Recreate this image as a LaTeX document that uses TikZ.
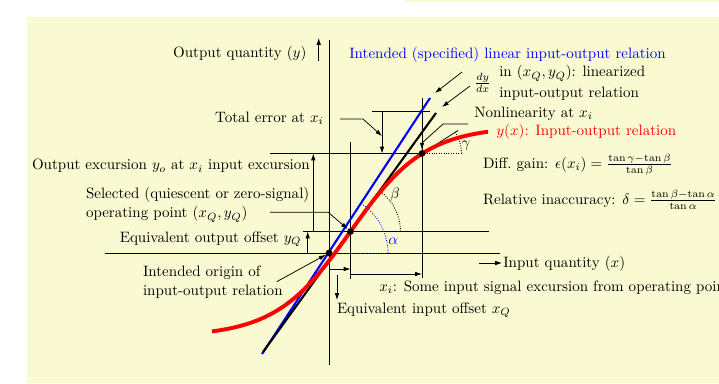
\documentclass[tikz,border=0pt]{standalone}
\usetikzlibrary{arrows.meta}
\definecolor{bgyellow}{RGB}{250,250,210}
\begin{document}
\begin{tikzpicture}[x=0.665pt,y=-0.665pt,
  >={Latex[length=4.5pt,width=3pt]},
  lbl/.style={inner sep=0pt},
  guide/.style={line width=0.5pt},
  refline/.style={line width=1.4pt},
  ioline/.style={red,line width=2.6pt},
  angarc/.style={densely dotted,line width=0.6pt},
  dotpt/.style={fill=black}]
\useasboundingbox (0,0) rectangle (719,383);
\fill[white] (0,0) rectangle (719,383);
\fill[bgyellow] (405,0) rectangle (719,2.5);
\fill[bgyellow] (27,17) rectangle (719,383);

% key points
\coordinate (O) at (329,253);
\coordinate (Q) at (350.5,231.5);
\coordinate (P) at (422,153.5);

% axes and guide lines
\coordinate (yaxT) at (329,40);   \coordinate (yaxB) at (329,365);
\coordinate (xaxL) at (105,253);  \coordinate (xaxR) at (500,253);
\coordinate (hqL) at (303,231.5); \coordinate (hqR) at (489,231.5);
\coordinate (hpL) at (270,153.5); \coordinate (hpR) at (461.5,153.5);
\coordinate (vqT) at (350.5,142); \coordinate (vqB) at (350.5,279);
\coordinate (vpT) at (422,98);    \coordinate (vpB) at (422,278);
\coordinate (teL) at (372,111);   \coordinate (teR) at (430,111);
\draw[guide] (yaxT) -- (yaxB);
\draw[guide] (xaxL) -- (xaxR);
\draw[guide] (hqL) -- (hqR);
\draw[guide] (hpL) -- (P);
\draw[angarc] (P) -- (hpR);
\draw[guide] (vqT) -- (vqB);
\draw[guide] (vpT) -- (vpB);
\draw[guide] (teL) -- (teR);

% lines
\coordinate (blB) at (262,354); \coordinate (blT) at (430,98);
\coordinate (bkB) at (263,352); \coordinate (bkT) at (436,113);
\coordinate (gT) at (458,130.5);
\draw[refline,blue] (blB) -- (blT);
\draw[refline] (bkB) -- (bkT);
\draw[guide] (P) -- (gT);

% angle arcs
\coordinate (aE) at (388,253);
\coordinate (bE) at (400.5,231.5);
\draw[angarc,blue] (O) -- (aE);
\draw[angarc,blue] (aE) arc[start angle=0,end angle=-56.7,radius=59];
\draw[angarc] (Q) -- (bE);
\draw[angarc] (bE) arc[start angle=0,end angle=-53.9,radius=50];
\draw[angarc] (hpR) arc[start angle=0,end angle=-32.7,radius=39.5];

% input-output curve
\draw[ioline] plot[domain=212:488,samples=90,smooth] ({\x},{231.5-105*tanh((\x-350.5)/75)});

% dots
\fill[dotpt] (O) circle[radius=3.4];
\fill[dotpt] (Q) circle[radius=3.4];
\fill[dotpt] (P) circle[radius=3.4];

% labels
\node[lbl,anchor=east] (ylab) at (306.7,54) {Output quantity $(y)$};
\node[lbl,anchor=west,text=blue] (intended) at (349,55) {Intended (specified) linear input-output relation};
\node[lbl] (dydx) at (482.7,83) {$\frac{dy}{dx}$};
\node[lbl,anchor=west] (lin1) at (499,73.3) {in $(x_Q,y_Q)$: linearized};
\node[lbl,anchor=west] (lin2) at (499,93.3) {input-output relation};
\node[lbl,anchor=west] (nonlin) at (474,114) {Nonlinearity at $x_i$};
\node[lbl,anchor=west,text=red] (yx) at (496,131.7) {$y(x)$: Input-output relation};
\node[lbl,anchor=east] (toterr) at (324,118.5) {Total error at $x_i$};
\node[lbl,anchor=west] (outexc) at (31.7,166) {Output excursion $y_o$ at $x_i$ input excursion};
\node[lbl,anchor=west,align=left] (selected) at (85.7,204.5) {Selected (quiescent or zero-signal)\\[1pt]operating point $(x_Q,y_Q)$};
\node[lbl,anchor=east] (outoff) at (301.7,239) {Equivalent output offset $y_Q$};
\node[lbl,anchor=west,align=left] (origin) at (142.7,282) {Intended origin of\\[1pt]input-output relation};
\node[lbl,anchor=west] (inq) at (503,263.3) {Input quantity $(x)$};
\node[lbl,anchor=west] (xiexc) at (379,287.3) {$x_i$: Some input signal excursion from operating point};
\node[lbl,anchor=west] (inoff) at (336.7,310) {Equivalent input offset $x_Q$};
\node[lbl,anchor=west] (diff) at (482.7,165) {Diff.\ gain: $\epsilon(x_i)=\frac{\tan\gamma-\tan\beta}{\tan\beta}$};
\node[lbl,anchor=west] (relin) at (482.7,200) {Relative inaccuracy: $\delta=\frac{\tan\beta-\tan\alpha}{\tan\alpha}$};
\node[lbl,text=blue] (alab) at (393.3,241) {$\alpha$};
\node[lbl] (blab) at (395,195) {$\beta$};
\node[lbl] (glab) at (466,146) {$\gamma$};

% arrows
\coordinate (yaS) at (318.7,61);   \coordinate (yaE) at (318.7,38);
\coordinate (oeS) at (313.3,231.5);\coordinate (oeE) at (313.3,153.5);
\coordinate (ooS) at (307.7,253);  \coordinate (ooE) at (307.7,231.5);
\coordinate (xqS) at (329,269);    \coordinate (xqE) at (350.5,269);
\coordinate (xiS) at (350.5,274);  \coordinate (xiE) at (422,274);
\coordinate (ioS) at (337,275);    \coordinate (ioE) at (337,300);
\coordinate (iqS) at (479,263);    \coordinate (iqE) at (502,263);
\coordinate (teA) at (382,111);    \coordinate (teB) at (382,153.5);
\coordinate (tc1) at (340,119);    \coordinate (tc2) at (363,119); \coordinate (tc3) at (382,136);
\coordinate (sc1) at (270,212.3);  \coordinate (sc2) at (328.3,212.3);
\coordinate (oc1) at (276.7,281.7);
\coordinate (nc1) at (468,124);    \coordinate (nc2) at (443,124); \coordinate (nc3) at (422,143);
\coordinate (d1S) at (462,72);     \coordinate (d1E) at (435,93);
\coordinate (d2S) at (470,86);     \coordinate (d2E) at (442,107);
\draw[guide,->] (yaS) -- (yaE);
\draw[guide,->] (oeS) -- (oeE);
\draw[guide,->] (ooS) -- (ooE);
\draw[guide,->] (xqS) -- (xqE);
\draw[guide,->] (xiS) -- (xiE);
\draw[guide,->] (ioS) -- (ioE);
\draw[guide,->] (iqS) -- (iqE);
\draw[guide,->] (teA) -- (teB);
\draw[guide,->] (tc1) -- (tc2) -- (tc3);
\draw[guide,->,shorten >=2.5pt] (sc1) -- (sc2) -- (Q);
\draw[guide,->,shorten >=2.5pt] (oc1) -- (O);
\draw[guide,->,shorten >=2.5pt] (nc1) -- (nc2) -- (nc3) -- (P);
\draw[guide,->] (d1S) -- (d1E);
\draw[guide,->] (d2S) -- (d2E);
\end{tikzpicture}
\end{document}
